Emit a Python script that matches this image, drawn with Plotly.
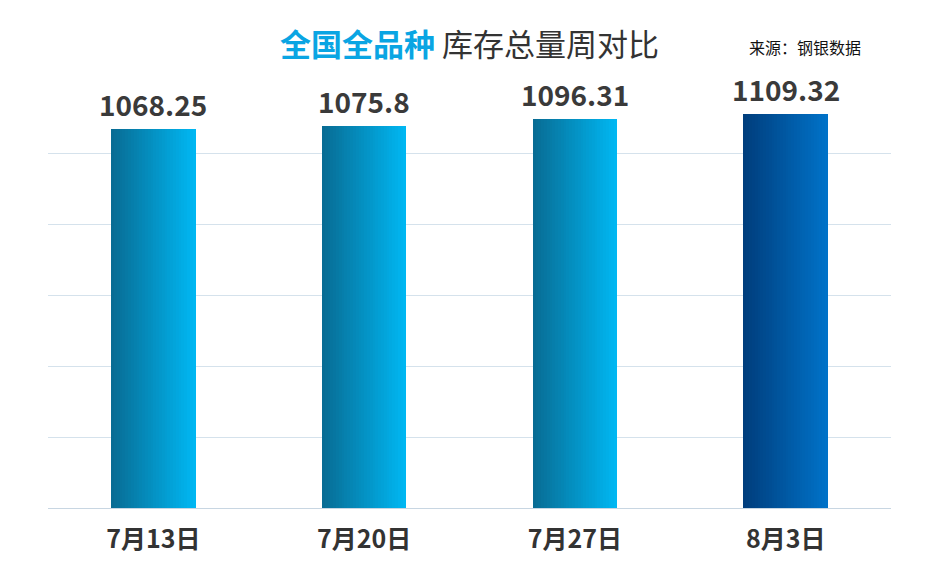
import plotly.graph_objects as go

categories = ["7月13日", "7月20日", "7月27日", "8月3日"]
values = [1068.25, 1075.8, 1096.31, 1109.32]
labels = ["1068.25", "1075.8", "1096.31", "1109.32"]

def lerp(c1, c2, t):
    return "rgb(%d,%d,%d)" % tuple(round(a + (b - a) * t) for a, b in zip(c1, c2))

normal = ((8, 108, 148), (0, 183, 242))
last = ((0, 62, 125), (0, 114, 200))
grad = [normal, normal, normal, last]

N = 30
W = 0.4
fig = go.Figure()
for k in range(N):
    t = k / (N - 1)
    fig.add_trace(go.Bar(
        x=list(range(len(categories))), y=values, width=W / N * 1.05,
        offset=-W / 2 + k * W / N,
        marker=dict(color=[lerp(g[0], g[1], t) for g in grad], line=dict(width=0)),
        hoverinfo="skip", showlegend=False))

for i, (v, l) in enumerate(zip(values, labels)):
    fig.add_annotation(x=i, y=v, text="<b>%s</b>" % l, showarrow=False, yshift=25,
                       font=dict(size=28, color="#3a3a3a", family="Noto Sans CJK SC"))

fig.add_annotation(xref="paper", yref="paper", x=0.5, y=1.0, yshift=64, xshift=0, showarrow=False,
                   text="<b><span style='color:#0aa5e3'>全国全品种</span></b> 库存总量周对比",
                   font=dict(size=31, color="#333333", family="Noto Sans CJK SC"), xanchor="center")
fig.add_annotation(xref="paper", yref="paper", x=1.0, y=1.0, yshift=49, xshift=-28, showarrow=False,
                   text="来源：钢银数据", xanchor="right",
                   font=dict(size=16, color="#111111", family="Noto Sans CJK SC"))

fig.update_layout(
    width=951, height=565, barmode="overlay", bargap=0,
    margin=dict(l=40, r=68, t=74, b=65),
    plot_bgcolor="white", paper_bgcolor="white",
    xaxis=dict(range=[-0.5, 3.5], tickvals=list(range(4)), ticktext=["<b>%s</b>" % c for c in categories],
               tickfont=dict(size=25, color="#333333", family="Noto Sans CJK SC"),
               ticklabelstandoff=14,
               showgrid=False, zeroline=False, showline=False, ticks=""),
    yaxis=dict(range=[0, 1200], dtick=200, showticklabels=False, gridcolor="#d5e2ec",
               zeroline=True, zerolinecolor="#c8d6e2", zerolinewidth=1),
)
fig.write_html("out.html")
